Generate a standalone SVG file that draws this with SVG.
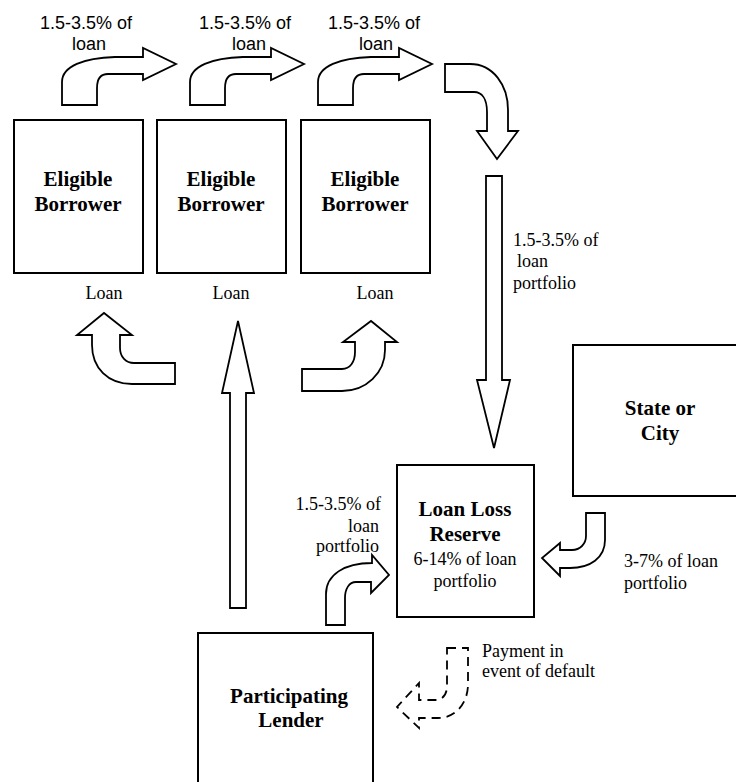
<svg xmlns="http://www.w3.org/2000/svg" width="736" height="782" viewBox="0 0 736 782">
<style>
.box{fill:#fff;stroke:#000;stroke-width:2}
.arr{fill:#fff;stroke:#000;stroke-width:1.8;stroke-linejoin:miter}
.dash{fill:none;stroke:#000;stroke-width:1.8;stroke-dasharray:9 6}
.bt{font-family:"Liberation Serif",serif;font-weight:bold;font-size:21px;text-anchor:middle;fill:#000}
.st{font-family:"Liberation Serif",serif;font-size:18px;fill:#000}
.at{font-family:"Liberation Sans",Arial,sans-serif;font-size:18px;text-anchor:middle;fill:#000}
</style>
<defs>
<path id="bent" d="M62,105 L62,82 C62,66 84,58 115,57 L143,57 L143,48 L176,64 L143,80 L143,74 L108,74 C101,74 97,79 97,88 L97,105 Z"/>
</defs>
<rect width="736" height="782" fill="#fff"/>
<g id="connectors">
<use href="#bent" class="arr"/>
<use href="#bent" class="arr" transform="translate(128,0)"/>
<use href="#bent" class="arr" transform="translate(256,0)"/>
<path class="arr" d="M445,64 L470,64 C493,64 508,85 508,110 L508,131 L518,131 L497,159 L477,131 L487,131 L487,112 C487,99 482,92 474,92 L445,92 Z"/>
<path class="arr" d="M486,176 L502,176 L502,380 L510,380 L494,448 L477,380 L486,380 Z"/>
<path class="arr" d="M175,363 L175,384 L132,384 C108,384 92,368 92,345 L92,335 L77,335 L104,313 L132,335 L120,335 L120,348 C120,357 126,363 134,363 Z"/>
<path class="arr" d="M230,608 L230,393 L222,393 L238,321 L254,393 L246,393 L246,608 Z"/>
<path class="arr" d="M302,369 L342,369 C350,369 355,362 355,352 L355,342 L343,342 L371,321 L397,342 L385,342 L385,350 C385,373 366,391 342,391 L302,391 Z"/>
<path class="arr" d="M326,625 L326,594 C326,575 344,563 372,563 L372,555 L389,575 L371,593 L371,582 L356,582 C349,582 345,589 345,598 L345,625 Z"/>
<path class="arr" d="M586,513 L605,513 L605,540 C605,558 590,568 570,568 L560,568 L560,576 L542,558 L560,543 L560,550 L572,550 C580,550 586,544 586,536 Z"/>
<path class="dash" d="M447,648 L468,648 L468,684 C468,703 456,718 438,718 L419,718 L419,728 L397,707 L419,683 L419,700 L436,700 C443,700 447,694 447,686 Z"/>
<text class="at" x="86" y="29">1.5-3.5% of</text>
<text class="at" x="89" y="50">loan</text>
<text class="at" x="245" y="29">1.5-3.5% of</text>
<text class="at" x="249" y="50">loan</text>
<text class="at" x="374" y="29">1.5-3.5% of</text>
<text class="at" x="376" y="50">loan</text>
<text class="st" x="513" y="246">1.5-3.5% of</text>
<text class="st" x="517" y="267">loan</text>
<text class="st" x="513" y="289">portfolio</text>
<text class="st" x="104" y="299" text-anchor="middle">Loan</text>
<text class="st" x="231" y="299" text-anchor="middle">Loan</text>
<text class="st" x="375" y="299" text-anchor="middle">Loan</text>
<text class="st" x="381" y="510" text-anchor="end">1.5-3.5% of</text>
<text class="st" x="379" y="532" text-anchor="end">loan</text>
<text class="st" x="379" y="552" text-anchor="end">portfolio</text>
<text class="st" x="624" y="567">3-7% of loan</text>
<text class="st" x="624" y="589">portfolio</text>
<text class="st" x="482" y="657">Payment in</text>
<text class="st" x="482" y="677">event of default</text>
</g>
<g id="borrower1">
<rect class="box" x="14" y="120" width="129" height="153"/>
<text class="bt" x="78" y="186">Eligible</text>
<text class="bt" x="78" y="211">Borrower</text>
</g>
<g id="borrower2">
<rect class="box" x="157" y="120" width="129" height="153"/>
<text class="bt" x="221" y="186">Eligible</text>
<text class="bt" x="221" y="211">Borrower</text>
</g>
<g id="borrower3">
<rect class="box" x="301" y="120" width="129" height="153"/>
<text class="bt" x="365" y="186">Eligible</text>
<text class="bt" x="365" y="211">Borrower</text>
</g>
<g id="state">
<rect class="box" x="573" y="345" width="200" height="151"/>
<text class="bt" x="660" y="415">State or</text>
<text class="bt" x="660" y="440">City</text>
</g>
<g id="reserve">
<rect class="box" x="397" y="465" width="137" height="152"/>
<text class="bt" x="465" y="516">Loan Loss</text>
<text class="bt" x="465" y="541">Reserve</text>
<text class="st" x="465" y="565" text-anchor="middle">6-14% of loan</text>
<text class="st" x="465" y="587" text-anchor="middle">portfolio</text>
</g>
<g id="lender">
<rect class="box" x="198" y="633" width="175" height="170"/>
<text class="bt" x="289" y="703">Participating</text>
<text class="bt" x="291" y="727">Lender</text>
</g>
</svg>
